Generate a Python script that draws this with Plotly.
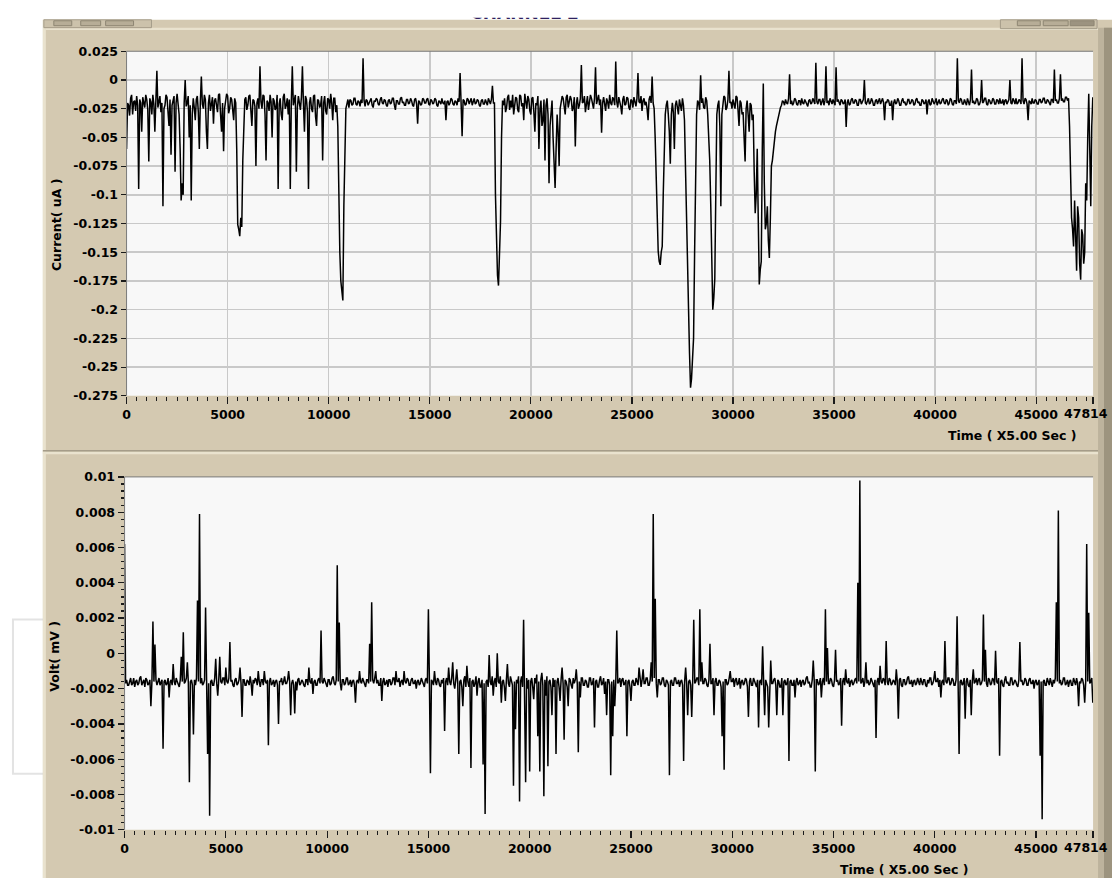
import numpy as np
import plotly.graph_objects as go

# ---------------- data ----------------
SAMPLE_STEP = 50           # time units (x5.00 sec) between plotted samples
TIME_END = 47814

current_uA = [
    -0.06, -0.02, -0.022, -0.031, -0.016, -0.013, -0.03, -0.019, -0.018, -0.027, -0.014, -0.022, -0.095, -0.017, -0.02, -0.045, -0.015, -0.021, -0.024, -0.013,
    -0.017, -0.026, -0.071, -0.016, -0.019, -0.03, -0.013, -0.021, -0.045, -0.018, 0.008, -0.024, -0.02, -0.014, -0.028, -0.02, -0.11, -0.025, -0.022, -0.013,
    -0.015, -0.027, -0.04, -0.017, -0.065, -0.022, -0.018, -0.014, -0.08, -0.02, -0.012, -0.026, -0.03, -0.06, -0.105, -0.09, -0.1, -0.02, 0.0, -0.023,
    -0.02, -0.014, -0.05, -0.022, -0.105, -0.03, -0.016, -0.024, -0.035, -0.017, -0.014, -0.028, -0.06, -0.019, 0.003, -0.021, -0.025, -0.013, -0.017, -0.045,
    -0.06, -0.02, -0.013, -0.027, -0.022, -0.015, -0.038, -0.018, -0.016, -0.024, -0.028, -0.013, -0.012, -0.03, -0.045, -0.02, -0.062, -0.025, -0.018, -0.012,
    -0.014, -0.029, -0.025, -0.015, -0.017, -0.024, -0.035, -0.016, -0.02, -0.06, -0.126, -0.13, -0.136, -0.12, -0.128, -0.07, -0.03, -0.017, -0.015, -0.026,
    -0.022, -0.014, -0.013, -0.028, -0.04, -0.017, -0.018, -0.023, -0.075, -0.02, -0.016, -0.025, 0.012, -0.019, -0.025, -0.013, -0.014, -0.03, -0.07, -0.018,
    -0.02, -0.027, -0.013, -0.019, -0.05, -0.016, -0.018, -0.026, -0.024, -0.013, -0.095, -0.021, -0.016, -0.03, -0.035, -0.015, -0.012, -0.025, -0.022, -0.016,
    -0.03, -0.017, -0.095, -0.02, 0.012, -0.022, -0.018, -0.013, -0.08, -0.024, -0.014, -0.019, -0.026, -0.015, 0.012, -0.02, -0.045, -0.014, -0.017, -0.028,
    -0.095, -0.02, -0.015, -0.025, -0.028, -0.014, -0.013, -0.032, -0.04, -0.017, -0.018, -0.024, -0.022, -0.014, -0.07, -0.02, -0.014, -0.027, -0.03, -0.016,
    -0.017, -0.025, -0.012, -0.02, -0.035, -0.016, -0.016, -0.028, -0.022, -0.04, -0.1, -0.15, -0.175, -0.185, -0.192, -0.11, -0.045, -0.025, -0.021, -0.017,
    -0.024, -0.017, -0.018, -0.022, -0.021, -0.016, -0.016, -0.021, -0.022, -0.018, -0.019, -0.023, -0.017, -0.02, 0.019, -0.018, -0.023, -0.017, -0.018, -0.022,
    -0.02, -0.017, -0.016, -0.022, -0.024, -0.018, -0.019, -0.016, -0.017, -0.021, -0.022, -0.017, -0.015, -0.02, -0.021, -0.017, -0.018, -0.022, -0.023, -0.018,
    -0.017, -0.021, -0.02, -0.016, -0.016, -0.022, -0.026, -0.018, -0.018, -0.021, -0.021, -0.016, -0.015, -0.02, -0.019, -0.022, -0.022, -0.017, -0.017, -0.021,
    -0.02, -0.016, -0.018, -0.022, -0.023, -0.017, -0.016, -0.021, -0.038, -0.018, -0.019, -0.022, -0.021, -0.016, -0.017, -0.02, -0.02, -0.017, -0.016, -0.021,
    -0.022, -0.017, -0.018, -0.021, -0.02, -0.016, -0.017, -0.022, -0.023, -0.018, -0.019, -0.021, -0.016, -0.02, -0.021, -0.018, -0.035, -0.019, -0.018, -0.022,
    -0.02, -0.016, -0.017, -0.021, -0.022, -0.018, -0.019, -0.022, -0.016, -0.019, 0.006, -0.02, -0.049, -0.017, -0.018, -0.022, -0.021, -0.016, -0.017, -0.021,
    -0.019, -0.016, -0.022, -0.018, -0.016, -0.021, -0.02, -0.017, -0.018, -0.022, -0.023, -0.018, -0.017, -0.021, -0.021, -0.017, -0.019, -0.022, -0.016, -0.02,
    -0.021, -0.017, -0.005, -0.02, -0.02, -0.1, -0.145, -0.17, -0.179, -0.156, -0.123, -0.05, -0.018, -0.022, -0.016, -0.028, -0.024, -0.015, -0.013, -0.026,
    -0.018, -0.024, -0.013, -0.03, -0.022, -0.015, -0.016, -0.026, -0.028, -0.013, -0.014, -0.023, -0.02, -0.035, -0.012, -0.021, -0.025, -0.014, -0.017, -0.027,
    -0.03, -0.016, -0.015, -0.028, -0.045, -0.02, -0.022, -0.014, -0.06, -0.025, -0.018, -0.04, -0.035, -0.017, -0.07, -0.022, -0.016, -0.03, -0.09, -0.04,
    -0.028, -0.018, -0.05, -0.07, -0.094, -0.06, -0.03, -0.045, -0.075, -0.025, -0.02, -0.014, -0.016, -0.027, -0.03, -0.015, -0.013, -0.024, -0.02, -0.014,
    -0.017, -0.027, -0.024, -0.015, -0.058, -0.021, -0.015, -0.025, -0.022, -0.016, 0.013, -0.02, -0.019, -0.014, -0.028, -0.018, -0.014, -0.026, -0.021, -0.013,
    -0.016, -0.023, -0.025, -0.016, 0.011, -0.021, -0.018, -0.013, -0.022, -0.017, -0.046, -0.02, -0.015, -0.024, -0.027, -0.016, -0.019, -0.025, -0.013, -0.02,
    -0.022, -0.015, -0.017, -0.022, 0.016, -0.019, -0.024, -0.015, -0.018, -0.023, -0.03, -0.017, -0.014, -0.022, -0.021, -0.015, -0.016, -0.024, -0.026, -0.017,
    -0.018, -0.024, -0.015, -0.021, -0.023, -0.016, 0.006, -0.019, -0.02, -0.014, -0.027, -0.018, -0.016, -0.022, -0.019, -0.025, -0.035, -0.017, -0.014, -0.02,
    0.003, -0.02, -0.025, -0.05, -0.09, -0.13, -0.149, -0.158, -0.161, -0.15, -0.145, -0.1, -0.05, -0.03, -0.022, -0.018, -0.03, -0.045, -0.073, -0.03,
    -0.02, -0.028, -0.06, -0.022, -0.018, -0.025, -0.03, -0.017, -0.022, -0.027, -0.016, -0.022, -0.035, -0.07, -0.13, -0.16, -0.198, -0.238, -0.268, -0.26,
    -0.245, -0.225, -0.153, -0.09, -0.03, -0.018, -0.02, -0.026, 0.004, -0.02, -0.016, -0.024, -0.025, -0.015, -0.018, -0.03, -0.05, -0.07, -0.108, -0.16,
    -0.2, -0.19, -0.173, -0.1, -0.03, -0.022, -0.018, -0.04, -0.11, -0.03, -0.02, -0.014, -0.015, -0.026, -0.024, -0.017, 0.008, -0.02, -0.019, -0.025,
    -0.017, -0.023, -0.025, -0.014, -0.015, -0.026, -0.04, -0.018, -0.02, -0.03, -0.028, -0.05, -0.071, -0.025, -0.018, -0.03, -0.045, -0.02, -0.022, -0.035,
    -0.03, -0.08, -0.116, -0.1, -0.06, -0.12, -0.178, -0.165, -0.158, -0.06, -0.003, -0.09, -0.13, -0.125, -0.11, -0.14, -0.155, -0.12, -0.075, -0.07,
    -0.06, -0.052, -0.045, -0.04, -0.035, -0.03, -0.028, -0.024, -0.022, -0.018, -0.019, -0.022, -0.017, -0.02, -0.021, -0.016, 0.005, -0.021, -0.018, -0.022,
    -0.02, -0.016, -0.017, -0.021, -0.022, -0.018, -0.018, -0.022, -0.016, -0.02, -0.021, -0.017, -0.019, -0.022, -0.023, -0.018, -0.017, -0.021, -0.02, -0.016,
    -0.018, -0.021, 0.015, -0.019, -0.021, -0.017, -0.017, -0.022, -0.019, -0.016, -0.022, -0.018, 0.012, -0.02, -0.018, -0.022, -0.016, -0.02, -0.021, -0.017,
    -0.019, -0.022, 0.011, -0.019, -0.017, -0.021, -0.022, -0.017, -0.018, -0.021, -0.02, -0.017, -0.041, -0.02, -0.017, -0.022, -0.021, -0.017, -0.016, -0.02,
    -0.02, -0.017, -0.018, -0.022, -0.022, -0.017, -0.017, -0.021, -0.019, -0.017, 0.0, -0.02, -0.021, -0.017, -0.016, -0.021, -0.02, -0.016, -0.018, -0.022,
    -0.022, -0.018, -0.017, -0.021, -0.019, -0.016, -0.021, -0.018, -0.016, -0.02, -0.035, -0.019, -0.02, -0.017, -0.018, -0.022, -0.022, -0.018, -0.035, -0.02,
    -0.017, -0.021, -0.02, -0.016, -0.018, -0.022, -0.022, -0.018, -0.016, -0.02, -0.019, -0.022, -0.021, -0.017, -0.017, -0.021, -0.02, -0.017, -0.018, -0.022,
    -0.021, -0.017, -0.016, -0.02, -0.019, -0.022, -0.022, -0.017, -0.018, -0.021, -0.02, -0.017, -0.03, -0.019, -0.017, -0.022, -0.021, -0.016, -0.018, -0.021,
    -0.019, -0.016, -0.022, -0.018, -0.017, -0.021, -0.02, -0.017, -0.016, -0.02, -0.021, -0.017, -0.018, -0.022, -0.02, -0.016, -0.017, -0.021, -0.022, -0.018,
    -0.018, -0.021, 0.019, -0.018, -0.02, -0.016, -0.017, -0.021, -0.021, -0.017, -0.019, -0.022, -0.016, -0.02, -0.022, -0.017, 0.009, -0.02, -0.018, -0.021,
    -0.02, -0.016, -0.017, -0.022, -0.021, -0.018, 0.0, -0.02, -0.019, -0.016, -0.016, -0.021, -0.022, -0.017, -0.018, -0.021, -0.02, -0.016, -0.017, -0.021,
    -0.021, -0.017, -0.018, -0.021, -0.016, -0.02, -0.02, -0.017, -0.022, -0.018, -0.017, -0.021, -0.019, -0.017, 0.0, -0.02, -0.021, -0.016, -0.018, -0.021,
    -0.016, -0.021, -0.02, -0.017, -0.018, -0.021, 0.019, -0.018, -0.021, -0.016, -0.017, -0.021, -0.035, -0.018, -0.019, -0.021, -0.016, -0.02, -0.02, -0.017,
    -0.018, -0.021, -0.021, -0.017, -0.017, -0.02, -0.019, -0.016, -0.016, -0.02, -0.02, -0.017, -0.018, -0.021, -0.022, -0.017, -0.017, -0.02, 0.009, -0.018,
    -0.017, -0.02, -0.02, -0.016, 0.005, -0.018, -0.016, -0.019, -0.019, -0.015, -0.015, -0.018, -0.016, -0.04, -0.09, -0.12, -0.13, -0.145, -0.105, -0.14,
    -0.166, -0.11, -0.12, -0.16, -0.174, -0.13, -0.135, -0.16, -0.15, -0.09, -0.105, -0.05, -0.012, -0.06, -0.11, -0.04, -0.015,
]

volt_mV = [
    0.0062, -0.0017, -0.0015, -0.0018, -0.0018, -0.0015, -0.0014, -0.0018, -0.0017, -0.0014, -0.0019, -0.0016, -0.0015, -0.0018, -0.0017, -0.0014, -0.0013, -0.0018, -0.0016, -0.0015,
    -0.0019, -0.0014, -0.0015, -0.0018, -0.0017, -0.0015, -0.003, -0.0016, 0.0018, -0.0016, 0.0005, -0.0015, -0.0018, -0.0015, -0.0014, -0.0018, -0.0016, -0.0015, -0.0054, -0.0016,
    -0.0015, -0.0018, -0.0017, -0.0014, -0.0025, -0.0016, -0.0015, -0.0018, -0.0006, -0.0016, -0.0018, -0.0014, -0.0016, -0.0018, -0.0019, -0.0015, -0.0002, -0.0016, 0.0012, -0.0017,
    -0.0016, -0.0014, -0.0005, -0.0017, -0.0073, -0.0016, -0.0015, -0.0018, -0.0046, -0.0015, -0.0018, -0.0014, 0.003, -0.0016, 0.0079, -0.0017, -0.0014, -0.0018, -0.0017, -0.0015,
    0.0026, -0.0016, -0.0057, -0.0017, -0.0092, -0.0016, -0.0015, -0.0018, -0.0018, -0.0014, -0.0003, -0.0017, -0.0024, -0.0015, -0.0002, -0.0016, -0.0017, -0.0014, -0.0014, -0.0018,
    -0.0008, -0.0016, -0.0017, -0.0014, 0.00064, -0.0016, -0.0015, -0.0018, -0.0019, -0.0015, -0.0014, -0.0018, -0.0017, -0.0015, -0.0008, -0.0017, -0.0036, -0.0015, -0.0015, -0.0018,
    -0.0018, -0.0015, -0.0016, -0.0018, -0.0013, -0.0017, -0.0024, -0.0015, -0.0017, -0.0014, -0.0015, -0.0018, -0.001, -0.0016, -0.0019, -0.0015, -0.0015, -0.0018, -0.001, -0.0016,
    -0.0017, -0.0015, -0.0052, -0.0016, -0.0014, -0.0018, -0.0017, -0.0015, -0.0019, -0.0016, -0.0015, -0.0018, -0.004, -0.0016, -0.0016, -0.0014, -0.0018, -0.0016, -0.0013, -0.0017,
    -0.0017, -0.0015, -0.001, -0.0016, -0.0035, -0.0017, -0.0015, -0.0018, -0.0034, -0.0016, -0.0021, -0.0015, -0.0014, -0.0018, -0.0017, -0.0015, -0.0016, -0.0018, -0.0019, -0.0015,
    -0.0015, -0.0018, -0.0008, -0.0016, -0.0017, -0.0014, -0.0023, -0.0016, -0.0015, -0.0018, -0.0018, -0.0015, -0.0014, -0.0017, 0.0013, -0.0016, -0.0017, -0.0014, -0.0016, -0.0018,
    -0.0019, -0.0015, -0.0015, -0.0018, -0.0017, -0.0014, -0.0013, -0.0017, -0.0018, -0.0015, 0.005, -0.0016, 0.00175, -0.0017, -0.0021, -0.0015, -0.0015, -0.0018, -0.0017, -0.0014,
    -0.0014, -0.0018, -0.0017, -0.0015, -0.0019, -0.0016, -0.0015, -0.0018, -0.0028, -0.0016, -0.0015, -0.0017, -0.001, -0.0016, -0.0017, -0.0014, -0.0016, -0.0018, -0.0019, -0.0015,
    -0.0015, -0.0017, 0.00055, -0.0016, 0.0029, -0.0015, -0.0017, -0.0014, -0.001, -0.0017, -0.0015, -0.0018, -0.0018, -0.0014, -0.0027, -0.0016, -0.0014, -0.0018, -0.0017, -0.0015,
    -0.0019, -0.0015, -0.0015, -0.0018, -0.0017, -0.0014, -0.0014, -0.0018, -0.001, -0.0016, -0.0016, -0.0014, -0.0019, -0.0016, -0.0015, -0.0018, -0.001, -0.0016, -0.0017, -0.0014,
    -0.0015, -0.0018, -0.0018, -0.0015, -0.0014, -0.0017, -0.0017, -0.0015, -0.002, -0.0016, -0.0015, -0.0018, -0.0017, -0.0014, -0.0016, -0.0018, -0.0019, -0.0015, -0.0014, -0.0017,
    0.0025, -0.0016, -0.0068, -0.0015, -0.0016, -0.0018, -0.001, -0.0016, -0.0018, -0.0014, -0.0015, -0.0018, -0.0019, -0.0015, -0.0017, -0.0014, -0.0044, -0.0016, -0.0014, -0.0018,
    -0.0008, -0.0016, -0.0018, -0.0014, -0.0005, -0.0017, -0.002, -0.0015, -0.0009, -0.0017, -0.0057, -0.0016, -0.0015, -0.0019, -0.003, -0.0015, -0.0013, -0.0019, -0.0007, -0.0016,
    -0.0019, -0.0014, -0.0065, -0.0016, -0.0015, -0.0019, -0.0017, -0.0013, -0.0024, -0.0016, -0.0014, -0.0019, -0.0019, -0.0015, -0.0063, -0.0017, -0.0091, -0.0016, -0.0015, -0.0019,
    -0.0001, -0.0016, -0.0018, -0.0013, -0.0024, -0.0016, -0.0014, -0.0019, 0.0, -0.0016, -0.0017, -0.0013, -0.0028, -0.0016, -0.0015, -0.0019, -0.0027, -0.0015, -0.0006, -0.0017,
    -0.0019, -0.0013, -0.0015, -0.0018, -0.0075, -0.0016, -0.0043, -0.0015, -0.0017, -0.0013, -0.0084, -0.0016, -0.0013, -0.0019, 0.0019, -0.0016, -0.0073, -0.0014, -0.002, -0.0015,
    -0.0067, -0.0016, -0.0014, -0.0019, -0.0026, -0.0014, -0.0017, -0.0012, -0.0047, -0.0016, -0.0067, -0.0015, -0.0011, -0.0018, -0.0081, -0.0015, -0.0024, -0.0013, -0.0064, -0.0016,
    -0.0015, -0.0019, -0.0035, -0.0014, -0.0019, -0.0015, -0.0057, -0.0016, -0.0014, -0.0019, -0.0027, -0.0015, -0.0008, -0.0017, -0.0049, -0.0015, -0.0016, -0.0019, -0.003, -0.0014,
    -0.0015, -0.0018, -0.002, -0.0014, -0.0017, -0.0015, -0.0009, -0.0017, -0.0056, -0.0016, -0.0025, -0.0014, -0.0014, -0.0018, -0.0018, -0.0015, -0.0016, -0.0019, -0.0019, -0.0014,
    -0.0014, -0.0018, -0.0017, -0.0014, -0.0042, -0.0016, -0.0015, -0.0019, -0.0019, -0.0015, -0.0013, -0.0018, -0.0017, -0.0014, -0.0023, -0.0016, -0.0035, -0.0015, -0.0015, -0.0018,
    -0.0069, -0.0016, -0.0047, -0.0015, -0.003, -0.0016, 0.0013, -0.0017, -0.0016, -0.0014, -0.0019, -0.0015, -0.0014, -0.0018, -0.0017, -0.0015, -0.0047, -0.0016, -0.0015, -0.0019,
    -0.0027, -0.0016, -0.0015, -0.0018, -0.0018, -0.0014, -0.0016, -0.0018, -0.0008, -0.0016, -0.0019, -0.0015, -0.0009, -0.0017, -0.0017, -0.0014, -0.0014, -0.0018, -0.0018, -0.0015,
    -0.0005, -0.0016, 0.0079, -0.0014, 0.0031, -0.0017, -0.0025, -0.0015, -0.0015, -0.0018, -0.0017, -0.0014, -0.0014, -0.0018, -0.0019, -0.0015, -0.0016, -0.0018, -0.0069, -0.0016,
    -0.0015, -0.0018, -0.0018, -0.0014, -0.0014, -0.0017, -0.0017, -0.0015, -0.0019, -0.0016, -0.0015, -0.0018, -0.0061, -0.0016, -0.0008, -0.0017, -0.0035, -0.0016, -0.0015, -0.0018,
    -0.0036, -0.0015, 0.0019, -0.0017, -0.0016, -0.0014, -0.0014, -0.0018, 0.0025, -0.0016, -0.0005, -0.0017, -0.0017, -0.0014, -0.0015, -0.0018, -0.0019, -0.0015, 0.00055, -0.0017,
    -0.0017, -0.0014, -0.0035, -0.0016, -0.0014, -0.0018, -0.0018, -0.0015, -0.0016, -0.0019, -0.0047, -0.0016, -0.0066, -0.0015, -0.0015, -0.0018, -0.0017, -0.0014, -0.001, -0.0016,
    -0.0016, -0.0014, -0.0019, -0.0015, -0.0014, -0.0018, -0.0017, -0.0014, -0.002, -0.0016, -0.0015, -0.0018, -0.0017, -0.0014, -0.0015, -0.0019, -0.0036, -0.0016, -0.0014, -0.0018,
    -0.0018, -0.0014, -0.0016, -0.0018, -0.0019, -0.0015, -0.0042, -0.0016, -0.0015, -0.0018, 0.0004, -0.0016, -0.0035, -0.0015, -0.0017, -0.0019, -0.0042, -0.0016, -0.0004, -0.0017,
    -0.0017, -0.0015, -0.0014, -0.0018, -0.0035, -0.0015, -0.0016, -0.0019, -0.0019, -0.0014, -0.0035, -0.0016, -0.0015, -0.0018, -0.0017, -0.0014, -0.0061, -0.0016, -0.0015, -0.0018,
    -0.0018, -0.0015, -0.0025, -0.0016, -0.0014, -0.0018, -0.0017, -0.0015, -0.0019, -0.0016, -0.0015, -0.0018, -0.0017, -0.0014, -0.0013, -0.0017, -0.0016, -0.0019, -0.0019, -0.0015,
    -0.0004, -0.0016, -0.0067, -0.0015, -0.0015, -0.0018, -0.0017, -0.0014, -0.0025, -0.0016, -0.0014, -0.0018, 0.0025, -0.0016, 0.0003, -0.0017, -0.0017, -0.0014, -0.0015, -0.0018,
    -0.0019, -0.0015, 0.0002, -0.0016, -0.0015, -0.0018, -0.0017, -0.0014, -0.0041, -0.0016, -0.0014, -0.0018, -0.0009, -0.0016, -0.0017, -0.0014, -0.0019, -0.0016, -0.0015, -0.0018,
    -0.0017, -0.0015, -0.0014, -0.0017, 0.004, -0.0016, 0.0098, -0.0017, -0.0016, -0.0014, -0.0019, -0.0016, -0.0005, -0.0017, -0.0015, -0.0018, -0.0017, -0.0014, -0.0016, -0.0018,
    -0.0019, -0.0015, -0.0048, -0.0016, -0.0014, -0.0018, -0.0007, -0.0016, -0.0017, -0.0014, -0.0015, -0.0018, 0.0007, -0.0016, -0.0018, -0.0014, -0.0015, -0.0018, -0.0017, -0.0015,
    -0.0016, -0.0018, -0.0009, -0.0016, -0.0037, -0.0015, -0.0014, -0.0018, -0.0019, -0.0015, -0.0015, -0.0018, -0.0017, -0.0014, -0.0013, -0.0017, -0.0017, -0.0015, -0.0019, -0.0016,
    -0.0015, -0.0018, -0.0017, -0.0014, -0.0016, -0.0018, -0.0014, -0.0017, -0.0018, -0.0015, -0.0015, -0.0018, -0.0019, -0.0015, -0.0017, -0.0014, -0.0014, -0.0018, -0.0017, -0.0015,
    -0.001, -0.0016, -0.0016, -0.0014, -0.0019, -0.0015, -0.0025, -0.0016, -0.0015, -0.0018, 0.0007, -0.0016, -0.0017, -0.0014, -0.0014, -0.0018, -0.0017, -0.0014, -0.0015, -0.0018,
    -0.0018, -0.0015, 0.0021, -0.0016, -0.0057, -0.0016, -0.0015, -0.0018, -0.0017, -0.0014, -0.0037, -0.0016, -0.0014, -0.0018, -0.0019, -0.0015, -0.0035, -0.0016, -0.0009, -0.0017,
    -0.0016, -0.0014, -0.0018, -0.0015, -0.0014, -0.0018, -0.0017, -0.0015, 0.0022, -0.0016, 0.0002, -0.0017, -0.0019, -0.0014, -0.0015, -0.0018, -0.0017, -0.0014, -0.0015, -0.0018,
    0.00015, -0.0016, -0.0017, -0.0014, -0.0058, -0.0016, -0.0015, -0.0018, -0.0019, -0.0015, -0.0013, -0.0017, -0.0016, -0.0018, -0.0018, -0.0014, -0.0014, -0.0018, -0.0017, -0.0015,
    -0.0016, -0.0018, -0.0019, -0.0015, 0.00064, -0.0016, -0.0015, -0.0018, -0.0017, -0.0014, -0.0015, -0.0018, -0.0018, -0.0015, -0.0014, -0.0017, -0.0017, -0.0015, -0.002, -0.0016,
    -0.0015, -0.0018, -0.0017, -0.0015, -0.0058, -0.0016, -0.0094, -0.0016, -0.0015, -0.0018, -0.0018, -0.0014, -0.0016, -0.0018, -0.0014, -0.0017, -0.0019, -0.0015, -0.0017, -0.0014,
    0.0029, -0.0016, 0.0081, -0.0017, -0.0015, -0.0018, -0.0017, -0.0014, -0.0014, -0.0018, -0.0017, -0.0015, -0.0019, -0.0016, -0.0015, -0.0018, -0.0018, -0.0014, -0.0016, -0.0018,
    -0.0014, -0.0017, -0.003, -0.0016, -0.0017, -0.0014, -0.0015, -0.0018, -0.0028, -0.0016, 0.0062, -0.0016, 0.0023, -0.0017, -0.0016, -0.0014, -0.0028,
]

# the last tick label ("47814") is written as a right-aligned text so it stays in the window
time_tick_vals = [0, 5000, 10000, 15000, 20000, 25000, 30000, 35000, 40000, 45000, 47814]
time_tick_text = ["0", "5000", "10000", "15000", "20000", "25000", "30000",
                  "35000", "40000", "45000", ""]
time_end_label = "47814"
current_tick_vals = [0.025, 0.0, -0.025, -0.05, -0.075, -0.1, -0.125, -0.15,
                     -0.175, -0.2, -0.225, -0.25, -0.275]
current_tick_text = ["0.025", "0", "-0.025", "-0.05", "-0.075", "-0.1", "-0.125",
                     "-0.15", "-0.175", "-0.2", "-0.225", "-0.25", "-0.275"]
volt_tick_vals = [0.01, 0.008, 0.006, 0.004, 0.002, 0.0, -0.002, -0.004, -0.006, -0.008, -0.01]
volt_tick_text = ["0.01", "0.008", "0.006", "0.004", "0.002", "0", "-0.002",
                  "-0.004", "-0.006", "-0.008", "-0.01"]

time_current = np.arange(len(current_uA)) * SAMPLE_STEP
time_volt = np.arange(len(volt_mV)) * SAMPLE_STEP

# ---------------- geometry helpers (pixels -> paper) ----------------
W, H = 1112, 885


def fx(p):
    return p / W


def fy(p):
    return 1 - p / H


TAN = "#D4C9B1"
TAN_LIGHT = "#E9E2CE"
TAN_DARK = "#A59C89"
PLOT_BG = "#F8F8F8"
GRID = "#C9C9C9"
TICK_COLOR = "#1A1A1A"
FONT = "DejaVu Sans"
TICK_FONT = dict(family=FONT, size=12.5, color="#000000", weight="bold")
TRACE_WIDTH = 1.5

TOP = dict(l=123, r=1093, t=44, b=394.5)
BOT = dict(l=121, r=1093, t=477, b=836)


def prect(x0, y0, x1, y1, fill, line=None, lw=0, layer="below"):
    return dict(type="rect", xref="paper", yref="paper",
                x0=fx(x0), x1=fx(x1), y0=fy(y1), y1=fy(y0),
                fillcolor=fill, layer=layer,
                line=dict(width=lw, color=line if line else fill))


def pline(x0, y0, x1, y1, color, width=1, layer="above"):
    return dict(type="line", xref="paper", yref="paper",
                x0=fx(x0), x1=fx(x1), y0=fy(y0), y1=fy(y1),
                line=dict(color=color, width=width), layer=layer)


shapes = [
    # faint box peeking out at the far left
    prect(9, 622, 60, 779, "#FFFFFF", line="#E3E3E3", lw=2),
    # tan instrument panels
    prect(39, 12, 1112, 885, TAN),
    prect(39, 12, 42, 885, TAN_LIGHT),
    prect(1098, 20, 1112, 885, "#BDB39D"),
    prect(1104, 20, 1112, 885, "#9D947F"),
    prect(42, 20, 1098, 22.5, TAN_LIGHT),
    # small toolbar buttons at the top
    prect(40, 12, 148, 20, "#CCC2AB", line=TAN_DARK, lw=1),
    prect(50, 13, 68, 18, "#B7AD97", line="#8E8673", lw=1),
    prect(77, 13, 97, 18, "#B7AD97", line="#8E8673", lw=1),
    prect(102, 13, 130, 18, "#B7AD97", line="#8E8673", lw=1),
    prect(1000, 12, 1097, 21, "#CCC2AB", line=TAN_DARK, lw=1),
    prect(1017, 13, 1040, 18, "#B7AD97", line="#8E8673", lw=1),
    prect(1043, 13, 1068, 18, "#B7AD97", line="#8E8673", lw=1),
    prect(1070, 13, 1094, 18, "#9C9380", line="#8E8673", lw=1),
    # separator between the two graphs
    prect(39, 449.5, 1098, 451.5, TAN_DARK),
    prect(39, 451.5, 1098, 454, TAN_LIGHT),
    # plot-area backgrounds
    prect(TOP["l"], TOP["t"], TOP["r"], TOP["b"], PLOT_BG),
    prect(BOT["l"], BOT["t"], BOT["r"], BOT["b"], PLOT_BG),
    # sunken borders (dark top/left)
    pline(TOP["l"], TOP["t"], TOP["r"], TOP["t"], "#7A7A7A", 1),
    pline(TOP["l"], TOP["t"], TOP["l"], TOP["b"], "#7A7A7A", 1),
    pline(BOT["l"], BOT["t"], BOT["r"], BOT["t"], "#7A7A7A", 1),
    pline(BOT["l"], BOT["t"], BOT["l"], BOT["b"], "#7A7A7A", 1),
]

fig = go.Figure()

fig.add_trace(go.Scatter(
    x=time_current, y=current_uA, mode="lines",
    line=dict(color="#000000", width=TRACE_WIDTH),
    xaxis="x", yaxis="y", hoverinfo="skip", showlegend=False))

fig.add_trace(go.Scatter(
    x=time_volt, y=volt_mV, mode="lines",
    line=dict(color="#000000", width=TRACE_WIDTH),
    xaxis="x2", yaxis="y2", hoverinfo="skip", showlegend=False))

# title fragment "CHANNEL 2" (only its lower edge shows in the reference)
fig.add_trace(go.Scatter(
    x=[0.5], y=[-1.0], mode="text", text=["CHANNEL 2"],
    textposition="top center", cliponaxis=True,
    textfont=dict(family=FONT, size=17, color="#2E2160", weight="bold"),
    xaxis="x4", yaxis="y4", hoverinfo="skip", showlegend=False))

minor_x = dict(tickmode="linear", tick0=0, dtick=500, ticks="outside",
               ticklen=4, tickwidth=1, tickcolor=TICK_COLOR, showgrid=False)

common_x = dict(range=[0, TIME_END], tickmode="array", tickvals=time_tick_vals,
                ticktext=time_tick_text, ticks="outside", ticklen=7, tickwidth=1.2,
                tickcolor=TICK_COLOR, tickfont=TICK_FONT, zeroline=False,
                showline=False, fixedrange=True, minor=minor_x)

label_font = dict(family=FONT, size=12.5, color="#000000", weight="bold")

fig.update_layout(
    width=W, height=H,
    margin=dict(l=0, r=0, t=0, b=0),
    paper_bgcolor="#FFFFFF",
    plot_bgcolor="rgba(0,0,0,0)",
    showlegend=False,
    shapes=shapes,
    xaxis=dict(domain=[fx(TOP["l"]), fx(TOP["r"])], anchor="y",
               showgrid=True, gridcolor=GRID, gridwidth=1.5, **common_x),
    yaxis=dict(domain=[fy(TOP["b"]), fy(TOP["t"])], anchor="x",
               range=[-0.275, 0.025], tickmode="array",
               tickvals=current_tick_vals, ticktext=current_tick_text,
               ticks="outside", ticklen=5, tickwidth=1.2, tickcolor=TICK_COLOR,
               tickfont=TICK_FONT, showgrid=True, gridcolor=GRID, gridwidth=1.5,
               zeroline=False, showline=False, fixedrange=True),
    xaxis2=dict(domain=[fx(BOT["l"]), fx(BOT["r"])], anchor="y2",
                showgrid=False, **common_x),
    yaxis2=dict(domain=[fy(BOT["b"]), fy(BOT["t"])], anchor="x2",
                range=[-0.01, 0.01], tickmode="array",
                tickvals=volt_tick_vals, ticktext=volt_tick_text,
                ticks="outside", ticklen=6, tickwidth=1.2, tickcolor=TICK_COLOR,
                tickfont=TICK_FONT, showgrid=False, zeroline=False,
                showline=False, fixedrange=True,
                minor=dict(tickmode="linear", tick0=-0.01, dtick=0.0004,
                           ticks="outside", ticklen=3, tickwidth=1.2,
                           tickcolor=TICK_COLOR, showgrid=False)),
    # independent grid of the lower graph (not aligned with its labels)
    xaxis3=dict(overlaying="x2", anchor="y2", range=[0, TIME_END],
                tickmode="linear", tick0=0, dtick=3153, showgrid=True,
                gridcolor=GRID, gridwidth=1.5, showticklabels=False, ticks="",
                zeroline=False, showline=False, fixedrange=True),
    yaxis3=dict(overlaying="y2", anchor="x2", range=[-0.01, 0.01],
                tickmode="linear", tick0=-0.01, dtick=0.02 / 9, showgrid=True,
                gridcolor=GRID, gridwidth=1.5, showticklabels=False, ticks="",
                zeroline=False, showline=False, fixedrange=True),
    xaxis4=dict(domain=[fx(522.5 - 100), fx(522.5 + 100)], anchor="y4",
                range=[0, 1], visible=False, fixedrange=True),
    yaxis4=dict(domain=[fy(14), fy(10)], anchor="x4", range=[0, 4],
                visible=False, fixedrange=True),
    annotations=[
        dict(text="Current( uA )", xref="paper", yref="paper",
             x=fx(52), y=fy(221), showarrow=False, textangle=-90,
             xanchor="center", yanchor="middle", font=label_font),
        dict(text="Volt( mV )", xref="paper", yref="paper",
             x=fx(51), y=fy(659), showarrow=False, textangle=-90,
             xanchor="center", yanchor="middle", font=label_font),
        dict(text="Time ( X5.00 Sec )", xref="paper", yref="paper",
             x=fx(1012), y=fy(435), showarrow=False,
             xanchor="center", yanchor="middle", font=label_font),
        dict(text="Time ( X5.00 Sec )", xref="paper", yref="paper",
             x=fx(904), y=fy(876), showarrow=False,
             xanchor="center", yanchor="middle", font=label_font),
        # end-of-range tick labels, kept inside the window like the original
        dict(text=time_end_label, xref="paper", yref="paper",
             x=fx(1110), y=fy(412), showarrow=False,
             xanchor="right", yanchor="middle", font=TICK_FONT),
        dict(text=time_end_label, xref="paper", yref="paper",
             x=fx(1110), y=fy(853.5), showarrow=False,
             xanchor="right", yanchor="middle", font=TICK_FONT),
    ],
)

fig.write_html(
    "out.html",
    config={"displayModeBar": False, "staticPlot": True},
    post_script="document.body.style.margin='0px';document.body.style.overflow='hidden';",
)
